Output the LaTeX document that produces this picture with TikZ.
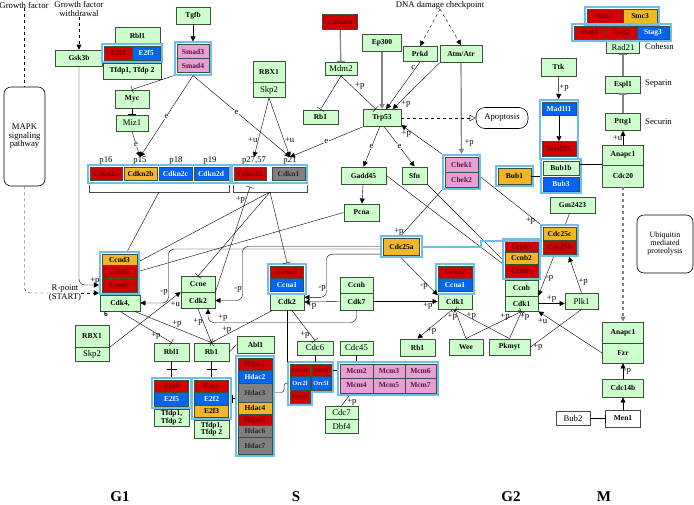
\documentclass[tikz,border=0pt]{standalone}
\usepackage{fontspec}
\setmainfont{Liberation Serif}
\usetikzlibrary{arrows.meta,fit}
\definecolor{kgreen}{RGB}{204,255,204}
\definecolor{kborder}{RGB}{60,80,60}
\definecolor{kred}{RGB}{210,0,0}
\definecolor{kredtxt}{RGB}{110,0,0}
\definecolor{kblue}{RGB}{0,100,245}
\definecolor{korange}{RGB}{242,182,40}
\definecolor{kpink}{RGB}{232,160,212}
\definecolor{kpinktxt}{RGB}{90,20,60}
\definecolor{kgray}{RGB}{128,128,128}
\definecolor{kframe}{RGB}{110,190,235}
\definecolor{klight}{RGB}{130,130,130}
\newcommand{\gfont}{\fontsize{7.5}{7.5}\selectfont\bfseries}
\newcommand{\rfont}{\fontsize{8.7}{8.5}\selectfont}
\newcommand{\ofont}{\fontsize{6.3}{6.3}\selectfont\bfseries}
\begin{document}
\begin{tikzpicture}[x=1pt,y=-1pt,
    gene/.style={rectangle,draw=kborder,fill=kgreen,line width=0.9pt,inner sep=0pt,align=center,font=\gfont,minimum width=34pt,minimum height=16pt},
    rg/.style={gene,font=\rfont},
    rd/.style={gene,fill=kred,text=kredtxt},
    bl/.style={gene,fill=kblue,text=white},
    og/.style={gene,fill=korange},
    pk/.style={gene,fill=kpink,text=kpinktxt},
    gy/.style={gene,fill=kgray,text=black!85},
    grp/.style={draw=kframe,line width=2pt,inner sep=1.6pt},
    txt/.style={font=\rfont,align=center,inner sep=0pt},
    lab/.style={font=\rfont,inner sep=0.6pt},
    elab/.style={font=\rfont,inner sep=0.4pt,fill=white},
    phase/.style={font=\fontsize{15}{15}\selectfont\bfseries},
    act/.style={-{Triangle[length=5pt,width=5pt]}},
    inh/.style={-{Bar[width=8pt]}},
    gline/.style={draw=klight,line width=1.2pt}]
  \fill[white] (0,0) rectangle (694,504);
  \useasboundingbox (0,0) rectangle (694,504);

  \node[txt] (gf) at (24,5) {Growth factor};
  \node[txt] (gfw) at (79,9) {Growth factor\\withdrawal};
  \node[draw,rounded corners=7pt,txt,minimum width=41pt,minimum height=99pt,line width=0.6pt] (mapk) at (24.5,136.5) {MAPK\\signaling\\pathway};
  \node[gene,minimum width=47pt] (gsk) at (79,58) {Gsk3b};
  \node[gene,minimum width=45pt,minimum height=17pt] (rbla) at (137.5,36) {Rbl1};
  \node[rd,minimum width=28pt,minimum height=14pt] (efa) at (118,53) {E2f4};
  \node[bl,minimum width=28pt,minimum height=14pt] (efb) at (146,53) {E2f5};
  \node[gene,minimum width=58pt] (tfa) at (132,71) {Tfdp1, Tfdp 2};
  \node[gene,minimum height=17pt] (tgfb) at (193,16) {Tgfb};
  \node[pk,minimum width=32pt,minimum height=14pt] (smd3) at (193,51.5) {Smad3};
  \node[pk,minimum width=32pt,minimum height=14pt] (smd4) at (193,65.5) {Smad4};
  \node[gene,minimum height=18pt] (myc) at (132,99) {Myc};
  \node[rg,minimum width=32pt] (miz) at (132,123) {Miz1};
  \node[gene,minimum width=32pt,minimum height=21pt] (rbxa) at (269,72) {RBX1};
  \node[rg,minimum width=32pt,minimum height=15pt] (skpa) at (269,90) {Skp2};

  \node[rd,minimum width=35pt,minimum height=15pt] (c2top) at (340,22) {Cdkn2a};
  \node[rg,minimum width=32pt,minimum height=13pt] (mdm) at (341,69) {Mdm2};
  \node[gene,minimum width=35pt,minimum height=14pt] (rbt) at (320.5,117) {Rb1};
  \node[gene,minimum width=39pt,minimum height=17pt] (ep) at (382,43) {Ep300};
  \node[gene,minimum height=15pt] (prkd) at (420,54) {Prkd};
  \node[gene,minimum width=42pt,minimum height=17pt] (atm) at (461,54) {Atm/Atr};
  \node[gene,minimum width=38pt,minimum height=17pt] (p53) at (382,118) {Trp53};
  \node[draw,rounded corners=9pt,txt,minimum width=52pt,minimum height=21pt,line width=0.6pt] (apop) at (502,118) {Apoptosis};
  \node[txt] (dna) at (440,5) {DNA damage checkpoint};

  \node[gene,minimum width=35pt,minimum height=18pt] (ttk) at (558.5,67) {Ttk};
  \node[bl,minimum height=13pt] (mad1) at (559,108.5) {Mad1l1};
  \node[rd,minimum height=15pt] (mad2) at (559,149) {Mad2l1};
  \node[gene,minimum width=36pt,minimum height=14pt] (bub1b) at (561,168) {Bub1b};
  \node[bl,minimum width=36pt,minimum height=14pt] (bub3) at (561,184) {Bub3};
  \node[og,minimum width=33pt] (bub1) at (514.5,176) {Bub1};
  \node[gene,minimum width=41pt,minimum height=20pt] (apca) at (623,155) {Anapc1};
  \node[gene,minimum width=41pt,minimum height=22pt] (cdc20) at (623,176) {Cdc20};
  \node[gene,minimum width=35pt,minimum height=17pt] (pttg) at (623,122) {Pttg1};
  \node[gene,minimum width=35pt,minimum height=17pt] (espl) at (623,84.5) {Espl1};
  \node[rg,minimum width=33pt,minimum height=12pt] (rad) at (623,47.5) {Rad21};
  \node[rd,minimum width=36pt,minimum height=14pt] (smc1) at (605,16) {Smc1};
  \node[og,minimum width=34pt,minimum height=14pt] (smc3) at (640,16) {Smc3};
  \node[rd,minimum width=31pt,minimum height=13pt] (stg1) at (589.5,32.5) {Stag1};
  \node[rd,minimum width=32pt,minimum height=13pt] (stg2) at (621,32.5) {Stag2};
  \node[bl,minimum width=32pt,minimum height=13pt] (stg3) at (653,32.5) {Stag3};
  \node[txt,anchor=west] (coh) at (645,47) {Cohesin};
  \node[txt,anchor=west] (sepn) at (645,84) {Separin};
  \node[txt,anchor=west] (secn) at (645,122) {Securin};
  \node[draw,rounded corners=7pt,txt,minimum width=56pt,minimum height=58pt,line width=0.6pt,font=\fontsize{8}{8}\selectfont] (ubq) at (665,244) {Ubiquitin\\mediated\\proteolysis};

  \node[txt] (lp16) at (106,161) {p16};
  \node[txt] (lp15) at (140,161) {p15};
  \node[txt] (lp18) at (176,161) {p18};
  \node[txt] (lp19) at (210,161) {p19};
  \node[txt] (lp27) at (254,161) {p27,57};
  \node[txt] (lp21) at (290,161) {p21};
  \node[rd,minimum width=32pt,minimum height=13pt] (p16) at (106,174) {Cdkn2a};
  \node[og,minimum width=33pt,minimum height=13pt] (p15) at (140.5,174) {Cdkn2b};
  \node[bl,minimum width=33pt,minimum height=13pt] (p18) at (175.5,174) {Cdkn2c};
  \node[bl,minimum width=34pt,minimum height=13pt] (p19) at (211,174) {Cdkn2d};
  \node[rd,minimum width=32pt,minimum height=13pt] (p27) at (250,174) {Cdkn1b};
  \node[gy,minimum width=33pt,minimum height=13pt] (p21) at (288.5,174) {Cdkn1};
  \draw[black!70] (89,185) |- (229,192) -- (229,185);
  \draw[black!70] (233,185) |- (307,192) -- (307,185);
  \coordinate (ba) at (159,192);
  \coordinate (bb) at (270,192);

  \node[gene,minimum width=45pt,minimum height=17pt] (gad) at (363.5,175.5) {Gadd45};
  \node[gene,minimum width=25pt,minimum height=17pt] (sfn) at (414.5,175.5) {Sfn};
  \node[gene,minimum width=35pt,minimum height=17pt] (pcna) at (361.5,212.5) {Pcna};
  \node[pk,minimum width=33pt,minimum height=15pt] (chk1) at (461.5,164.5) {Chek1};
  \node[pk,minimum width=33pt,minimum height=15pt] (chk2) at (461.5,179.5) {Chek2};
  \node[og,minimum width=36pt,minimum height=17pt] (c25a) at (401.5,246.5) {Cdc25a};
  \node[gene,minimum width=45pt] (gm) at (572.5,205) {Gm2423};
  \node[og,minimum width=33pt,minimum height=13pt] (c25c) at (559.5,233.5) {Cdc25c};
  \node[rd,minimum width=33pt,minimum height=14pt] (c25b) at (559.5,247) {Cdc25b};

  \node[og,minimum width=35pt,minimum height=11pt] (ccnd3) at (119.5,259.5) {Ccnd3};
  \node[rd,minimum width=35pt,minimum height=13pt] (ccnd2) at (119.5,271.5) {Ccnd2};
  \node[rd,minimum width=35pt,minimum height=14pt] (ccnd1) at (119.5,285) {Ccnd1};
  \node[gene,minimum width=40pt] (cdk4) at (120,303) {Cdk4,};
  \node[font=\gfont,inner sep=0pt] (six) at (106,314.5) {6};
  \node[txt] (rp) at (65,293) {R-point\\(START)};
  \node[gene] (ccne) at (198,284.5) {Ccne};
  \node[gene] (cdk2a) at (198,300.5) {Cdk2};
  \node[rd,minimum width=33pt,minimum height=12pt] (ca2a) at (287,272) {Ccna2};
  \node[bl,minimum width=33pt,minimum height=13.5pt] (ca1a) at (287,284.75) {Ccna1};
  \node[gene] (cdk2b) at (287,302) {Cdk2};
  \node[gene,minimum width=33pt] (ccnh) at (356.5,285) {Ccnh};
  \node[gene,minimum width=33pt,minimum height=17pt] (cdk7) at (356.5,301.5) {Cdk7};
  \node[rd,minimum height=12pt] (ca2b) at (455,272) {Ccna2};
  \node[bl,minimum height=13.5pt] (ca1b) at (455,284.75) {Ccna1};
  \node[gene] (cdk1a) at (455,301.5) {Cdk1};
  \node[rd,minimum width=33pt,minimum height=11pt] (cb3) at (521.5,246.5) {Ccnb3};
  \node[og,minimum width=33pt,minimum height=12pt] (cb2) at (521.5,258) {Ccnb2};
  \node[rd,minimum width=33pt,minimum height=13pt] (cb1) at (521.5,270.5) {Ccnb1};
  \node[gene,minimum width=33pt] (ccnb) at (521.5,288) {Ccnb};
  \node[gene,minimum width=33pt,minimum height=15pt] (cdk1b) at (521.5,303.5) {Cdk1};
  \node[rg,minimum width=33pt] (plk1) at (581.5,301) {Plk1};

  \node[gene,minimum height=22pt] (rbx1b) at (92,336) {RBX1};
  \node[rg,minimum height=14pt] (skp2b) at (92,354) {Skp2};
  \node[gene,minimum width=35pt,minimum height=18pt] (rbl1b) at (171.5,352) {Rbl1};
  \node[rd,minimum height=12pt] (e2f4b) at (171.5,386) {E2f4};
  \node[bl,minimum height=14pt] (e2f5b) at (171.5,399) {E2f5};
  \node[gene,minimum width=35pt,minimum height=17pt] (tfdpb) at (171.5,417.5) {Tfdp1,\\Tfdp 2};
  \node[gene,minimum width=35pt,minimum height=18pt] (rb1b) at (211.5,352) {Rb1};
  \node[rd,minimum height=12pt] (e2f1) at (211.5,386) {E2f1};
  \node[bl,minimum height=13pt] (e2f2) at (211.5,398.5) {E2f2};
  \node[og,minimum height=12pt] (e2f3) at (211.5,411) {E2f3};
  \node[gene,minimum width=35pt,minimum height=18pt] (tfdpc) at (211.5,429) {Tfdp1,\\Tfdp 2};
  \node[gene,minimum width=37pt,minimum height=17pt] (abl1) at (255.5,344.5) {Abl1};
  \node[rd,minimum height=12pt] (hdac1) at (255,364) {Hdac1};
  \node[bl,minimum height=13pt] (hdac2) at (255,376.5) {Hdac2};
  \node[gy,minimum height=19pt] (hdac3) at (255,392.5) {Hdac3};
  \node[og,minimum height=12pt] (hdac4) at (255,408) {Hdac4};
  \node[rd,minimum height=11pt] (hdac5) at (255,419.5) {Hdac5};
  \node[gy,minimum height=12pt] (hdac6) at (255,431) {Hdac6};
  \node[gy,minimum height=17pt] (hdac7) at (255,445.5) {Hdac7};
  \node[rd,font=\ofont,minimum width=20pt,minimum height=12pt] (orc1) at (300,370) {Orc1l};
  \node[rd,font=\ofont,minimum width=20pt,minimum height=12pt] (orc4) at (321,370) {Orc4l};
  \node[bl,font=\ofont,minimum width=20pt,minimum height=14pt] (orc2) at (300,383) {Orc2l};
  \node[bl,font=\ofont,minimum width=20pt,minimum height=14pt] (orc5) at (321,383) {Orc5l};
  \node[rd,font=\ofont,minimum width=20pt,minimum height=13pt] (orc6) at (300,396.5) {Orc6l};
  \node[rg,minimum width=36pt,minimum height=14pt] (cdc6) at (315,348) {Cdc6};
  \node[rg,minimum width=33pt,minimum height=14pt] (cdc45) at (356.5,348) {Cdc45};
  \node[pk,minimum width=33pt,minimum height=14pt] (mcm2) at (356.5,371) {Mcm2};
  \node[pk,minimum width=32pt,minimum height=14pt] (mcm3) at (389,371) {Mcm3};
  \node[pk,minimum width=31pt,minimum height=14pt] (mcm6) at (420.5,371) {Mcm6};
  \node[pk,minimum width=33pt,minimum height=15pt] (mcm4) at (356.5,385.5) {Mcm4};
  \node[pk,minimum width=32pt,minimum height=15pt] (mcm5) at (389,385.5) {Mcm5};
  \node[pk,minimum width=31pt,minimum height=15pt] (mcm7) at (420.5,385.5) {Mcm7};
  \node[rg,minimum width=33pt,minimum height=13pt] (cdc7) at (341.5,412.5) {Cdc7};
  \node[rg,minimum width=33pt,minimum height=14pt] (dbf4) at (341.5,426) {Dbf4};
  \node[gene,minimum width=35pt,minimum height=17pt] (rb1c) at (417.5,347.5) {Rb1};
  \node[gene] (wee) at (466,347) {Wee};
  \node[gene,minimum width=41pt] (pkmyt) at (509.5,347) {Pkmyt};
  \node[gene,minimum width=41pt,minimum height=21pt] (apcb) at (623,332.5) {Anapc1};
  \node[gene,minimum width=41pt,minimum height=20pt] (fzr) at (623,353) {Fzr};
  \node[gene,minimum width=41pt,minimum height=18pt] (c14b) at (623,388) {Cdc14b};
  \node[gene,fill=white,minimum width=35pt,minimum height=17pt] (men1) at (623,418.5) {Men1};
  \node[rg,fill=white,minimum height=14pt] (bub2) at (573,418.5) {Bub2};

  \node[phase] (g1) at (120,497) {G1};
  \node[phase] (ss) at (296,497) {S};
  \node[phase] (g2) at (511,497) {G2};
  \node[phase] (mm) at (604,497) {M};

  \node[grp,fit=(efa)(efb)] (fe) {};
  \node[grp,fit=(smd3)(smd4)] (fsm) {};
  \node[grp,fit=(mad1)(mad2)] (fmad) {};
  \node[grp,fit=(bub1b)(bub3)] (fbb) {};
  \node[grp,fit=(bub1)] (fbub1) {};
  \node[grp,fit=(smc1)(smc3)] (fsmc) {};
  \node[grp,fit=(stg1)(stg3)] (fstg) {};
  \node[grp,fit=(p16)(p19)] (fpa) {};
  \node[grp,fit=(p27)(p21)] (fpb) {};
  \node[grp,fit=(chk1)(chk2)] (fchk) {};
  \node[grp,fit=(c25a)] (fc25a) {};
  \node[grp,fit=(c25c)(c25b)] (fc25c) {};
  \node[grp,fit=(ccnd3)(ccnd1)] (fcd) {};
  \node[grp,fit=(ca2a)(ca1a)] (fca1) {};
  \node[grp,fit=(ca2b)(ca1b)] (fca2) {};
  \node[grp,fit=(cb3)(cb1)] (fcb) {};
  \node[grp,fit=(e2f4b)(e2f5b)] (fe45) {};
  \node[grp,fit=(e2f1)(e2f3)] (fe123) {};
  \node[grp,fit=(hdac1)(hdac7)] (fhd) {};
  \node[grp,fit=(mcm2)(mcm7)] (fmcm) {};
  \node[fit=(orc1)(orc5)(orc6),inner sep=1.6pt] (forc) {};
  \draw[kframe,line width=2pt] (288.4,362.4) -- (332.6,362.4) -- (332.6,391.6) -- (311.6,391.6) -- (311.6,404.6) -- (288.4,404.6) -- cycle;

  \draw[dashed] (gf.south) -- (gf.south |- mapk.north);
  \draw[dashed,act] (gfw.south) -- (gsk.north);
  \draw[dashed,rounded corners=6pt] (mapk.south) |- (rp.west);
  \draw[dashed,act] (rp.east) -- (rp.east -| fcd.west);
  \draw[act,rounded corners=6pt] (gsk.south) |- node[lab,pos=0.9,above]{+p} (ccnd1.west -| fcd.west);
  \draw[act] (tgfb) -- (fsm);
  \draw[inh] (fsm.south west) -- (myc.north);
  \draw[inh] (myc) -- (miz);
  \draw[act] (miz.south) -- node[elab]{e} (lp15.north);
  \draw[act] (fsm.south) -- node[elab]{e} (lp15.north);
  \draw[act] (fsm.south) -- node[elab,pos=0.45]{e} (lp21.north);
  \draw[act] (skpa.south) -- node[lab,pos=0.72,left]{+u} (lp27.north);
  \draw[act] (skpa.south) -- node[lab,pos=0.72,right]{+u} (lp21.north);
  \draw[act] (p53.south west) -- node[elab]{e} (lp21.north);

  \draw[gline,inh] (c2top) -- (mdm);
  \draw[inh] (mdm.south) -- (rbt.north);
  \draw[inh] (mdm.south) -- node[lab,pos=0.3,right=3pt]{+p} (p53.125);
  \draw[gline,act] (ep) -- (p53);
  \draw[dashed,act] (dna.south) -- (prkd.north);
  \draw[dashed,act] (dna.south) -- (atm.north);
  \draw[act] (prkd.south) -- node[lab,pos=0.12,left]{c} (p53.65);
  \draw[act] (atm.south west) -- node[lab,pos=0.9,right=3pt]{+p} (p53.40);
  \draw[gline,act] (atm) -- node[lab,pos=0.88,right=2pt]{+p} (fchk);
  \draw[act] (fchk.north west) -- node[lab,pos=0.88,below=1pt]{+p} (p53.-20);
  \draw[dashed,-{Triangle[open,length=6pt,width=6pt]}] (p53.east) -- (p53.east -| apop.west);
  \draw[act] (p53.-105) -- node[elab]{e} (gad.north);
  \draw[act] (p53.-75) -- node[elab]{e} (sfn.north);
  \draw[act] (gad) -- (pcna);
  \draw (gad.east) -- (fcb.192);
  \draw (sfn.south east) -- (fcb.west);
  \draw (fchk.south west) -- node[lab,pos=0.93,left]{+p} (fc25a.north);
  \draw (fchk.-15) -- node[lab,pos=0.93,left]{+p} (fc25c.north west);
  \draw[kframe,line width=2pt] (fc25a.east) -- ++(58,0) |- (fc25c.west);

  \draw[act] (ttk) -- node[lab,right]{+p} (fmad);
  \draw[act] (mad1) -- (mad2);
  \draw (bub1.east) -- (bub1.east -| fbb.west);
  \draw ([yshift=4pt]bub1b.east) -- ([yshift=4pt]bub1b.east -| apca.west);
  \draw[act] (apca) -- node[lab,left]{+u} (pttg);
  \draw[gline,inh] (pttg) -- (espl);
  \draw[gline,inh] (espl) -- (rad);
  \draw[gline,dashed,act] (cdc20) -- (apcb);
  \draw (gm) -- (fc25c);
  \draw[act] (fc25c.-110) -- node[lab,pos=0.55,right]{-p} (cdk1b.north east);
  \draw[act] (plk1.north) -- node[lab,pos=0.3,right]{+p} (fc25c.-60);
  \draw[act] (cdk1b.east) -- node[lab,above]{+p} (cdk1b.east -| plk1.west);

  \draw[act] (fc25a.south) -- node[lab,pos=0.75,left]{-p} (cdk1a.160);
  \draw[act,rounded corners=6pt] (fc25a.200) -| node[lab,pos=0.9,left]{-p} ([xshift=22pt]cdk2b.15) -- (cdk2b.15);
  \draw[act,rounded corners=6pt] (fc25a.west) -| node[lab,pos=0.9,left]{-p} ([xshift=27pt]cdk2a.east) -- (cdk2a.east);
  \draw[act,rounded corners=6pt] ([yshift=-2.5pt]fc25a.west) -| node[lab,pos=0.9,left]{-p} ([xshift=28pt]cdk4.east) -- (cdk4.east);
  \draw[act] (cdk7.west) -- node[lab,pos=0.8,below]{+p} (cdk2b.east);
  \draw[act] (cdk7.east) -- node[lab,pos=0.85,below]{+p} (cdk1a.west);
  \draw[act,rounded corners=6pt] (cdk7.south) -- ++(0,12) -| node[lab,pos=0.45,above]{+p} ([xshift=10pt]cdk2a.south);

  \draw (ba) -- ([xshift=8pt]fcd.north);
  \draw (bb) -- ([yshift=-10pt]fcd.north east);
  \draw (pcna.west) -- ([yshift=-20pt]fcd.north east);
  \draw[inh] (bb) -- (ccne.north);
  \draw[inh] (bb) -- (fca1.north);
  \draw[inh] (cdk2a.north east) -- node[lab,pos=0.88,left]{+p} ([yshift=-6pt]p27.south);

  \draw[inh] (cdk4.south) -- node[lab,pos=0.8,left]{+p} (rbl1b.north);
  \draw[inh] (cdk4.-30) -- node[lab,pos=0.55,above]{+p} (rb1b.north);
  \draw[inh] (cdk2a.south) -- node[lab,pos=0.4,left]{+p} (rb1b.north);
  \draw[inh] (cdk2b.-150) -- node[lab,pos=0.75,above]{+p} (rb1b.north);
  \draw[act] (rbx1b.south east) -- node[lab,pos=0.85,below right]{+u} (cdk2a.north west);
  \draw (rbl1b) -- coordinate[pos=0.5] (tka) (fe45);
  \draw ([xshift=-5pt]tka) -- ([xshift=5pt]tka);
  \draw (rb1b) -- coordinate[pos=0.5] (tkb) (fe123);
  \draw ([xshift=-5pt]tkb) -- ([xshift=5pt]tkb);
  \draw (rb1b.east) -- (abl1.west);
  \draw[inh] (fhd.west |- e2f2) -- (fe123.east |- e2f2);
  \draw[rounded corners=3pt] (fhd.east |- hdac3) -- ++(9,0) |- (forc.west |- orc2);
  \draw (cdk2b.south) -- (cdk2b.south |- forc.north);
  \draw[inh] (cdk2b.-60) -- node[lab,pos=0.8,left]{+p} (cdc6.north);
  \draw (cdc6) -- (cdc6 |- forc.north);
  \draw (forc.east |- orc4) -- (fmcm.west |- orc4);
  \draw (cdc45.south) -- (cdc45.south |- fmcm.north);
  \draw (cdc7.north) -- node[lab,pos=0.4,right=2pt]{+p} ([xshift=12pt]fmcm.south west);

  \draw[act] (cdk1a.-110) -- node[lab,pos=0.75,right]{+p} (rb1c.north);
  \draw[inh] (wee.north) -- node[lab,pos=0.75,left]{+p} (cdk1a.south);
  \draw[inh] (wee.north) -- node[lab,pos=0.8,left]{+p} (cdk1b.south);
  \draw[inh] (pkmyt.north) -- node[lab,pos=0.8,right]{+p} (cdk1a.south);
  \draw[inh] (pkmyt.north) -- node[lab,pos=0.8,right]{+p} (cdk1b.south);
  \draw (plk1.south) -- (pkmyt.east) node[lab,right=2pt]{+p};
  \draw[act] (fzr.west) -- node[lab,pos=0.85,below left]{+u} (cdk1b.south east);
  \draw[act] (c14b) -- node[lab,right]{-p} (fzr);
  \draw[act] (men1) -- (c14b);
  \draw[inh] (bub2.east) -- (bub2.east -| men1.west);
\end{tikzpicture}
\end{document}
